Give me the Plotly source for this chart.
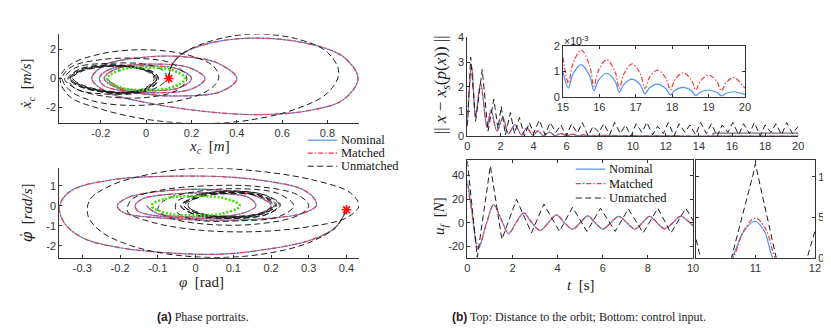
import plotly.graph_objects as go

# ---------------- data ----------------
# (a) top: cart phase portrait (x_c [m], xdot_c [m/s])
xc_nom = [0.10, 0.11, 0.15, 0.26, 0.46,
          0.70, 0.87, 0.935, 0.87, 0.72,
          0.50, 0.25, 0.00, -0.17, -0.240,
          -0.18, -0.02, 0.15, 0.31, 0.40,
          0.33, 0.14, -0.06, -0.19, -0.205,
          -0.15, 0.03, 0.19, 0.26, 0.20,
          0.04, -0.11, -0.185, -0.13, 0.01,
          0.14, 0.20, 0.15, 0.00, -0.12,
          -0.175]
xcdot_nom = [0.0, 0.8, 1.6, 2.35, 2.78,
             2.45, 1.5, 0.0, -1.45, -2.2,
             -2.48, -2.25, -1.65, -0.95, 0.0,
             0.95, 1.45, 1.52, 1.1, 0.0,
             -0.9, -1.2, -0.95, -0.45, 0.1,
             0.7, 1.0, 0.75, 0.0, -0.72,
             -0.98, -0.75, 0.0, 0.68, 0.88,
             0.65, 0.0, -0.62, -0.84, -0.6,
             0.0]
xc_unm = [0.10, 0.11, 0.15, 0.26, 0.45,
          0.66, 0.80, 0.85, 0.80, 0.66,
          0.46, 0.25, 0.02, -0.20, -0.34,
          -0.38, -0.34, -0.20, 0.00, 0.19,
          0.30, 0.32, 0.27, 0.12, -0.06,
          -0.22, -0.33, -0.37, -0.33, -0.20,
          -0.02, 0.12, 0.18, 0.13, 0.00,
          -0.17, -0.31, -0.36, -0.31, -0.16,
          0.00, 0.08, 0.09, 0.05, -0.06,
          -0.20, -0.31, -0.345]
xcdot_unm = [0.0, 0.8, 1.6, 2.45, 3.05,
             2.75, 1.8, 0.4, -1.0, -2.1,
             -2.85, -3.1, -2.85, -2.1, -1.2,
             0.0, 0.9, 1.7, 1.98, 1.6,
             0.8, 0.0, -0.85, -1.6, -1.85,
             -1.6, -0.9, 0.0, 0.8, 1.3,
             1.38, 1.0, 0.0, -0.85, -1.3,
             -1.25, -0.7, 0.0, 0.75, 1.05,
             0.97, 0.5, 0.0, -0.6, -1.0,
             -1.05, -0.7, 0.0]
xc_unm_cycle = [-0.30, -0.19, -0.05, 0.04, 0.055, 0.01, -0.07, -0.20, -0.30, -0.340,
                -0.29, -0.18, -0.05, 0.03, 0.045, 0.00, -0.08, -0.20, -0.295, -0.330,
                -0.28, -0.17, -0.04, 0.025, 0.035, -0.005, -0.085, -0.195, -0.285, -0.322,
                -0.29, -0.18, -0.045, 0.035, 0.045, 0.005, -0.075, -0.20, -0.295, -0.334,
                -0.30, -0.19, -0.05, 0.04, 0.052, 0.008, -0.07, -0.20, -0.30, -0.338,
                -0.285, -0.175, -0.045, 0.03, 0.04, 0.0, -0.08, -0.195, -0.29, -0.326]
xcdot_unm_cycle = [0.60, 0.93, 0.82, 0.36, -0.10, -0.76, -1.06, -0.92, -0.50, 0.0,
                   0.56, 0.87, 0.76, 0.32, -0.10, -0.70, -0.99, -0.86, -0.46, 0.0,
                   0.52, 0.82, 0.71, 0.28, -0.08, -0.64, -0.93, -0.80, -0.42, 0.0,
                   0.56, 0.86, 0.75, 0.31, -0.09, -0.69, -0.98, -0.85, -0.46, 0.0,
                   0.59, 0.91, 0.80, 0.35, -0.10, -0.74, -1.04, -0.90, -0.49, 0.0,
                   0.54, 0.84, 0.73, 0.30, -0.09, -0.67, -0.96, -0.83, -0.44, 0.0]
orbit_xc = [-0.17, -0.12, 0.0, 0.12, 0.171, 0.12, 0.0, -0.12, -0.17]
orbit_xcdot = [0.0, 0.55, 0.76, 0.55, 0.0, -0.57, -0.79, -0.57, 0.0]
start_xc = [0.10]
start_xcdot = [0.0]

# (a) bottom: pendulum phase portrait (phi [rad], phidot [rad/s])
phi_nom = [0.40, 0.37, 0.30, 0.18, 0.07,
           -0.05, -0.20, -0.30, -0.35, -0.36,
           -0.33, -0.22, -0.05, 0.10, 0.20,
           0.28, 0.315, 0.32, 0.28, 0.18,
           0.05, -0.10, -0.19, -0.207, -0.18,
           -0.08, 0.05, 0.15, 0.20, 0.16,
           0.05, -0.08, -0.15, -0.16, -0.14,
           -0.05, 0.05, 0.14, 0.16, 0.12,
           0.00, -0.10, -0.13]
phidot_nom = [-0.2, -1.1, -1.75, -2.2, -2.42,
              -2.38, -2.1, -1.6, -0.8, 0.0,
              0.75, 1.3, 1.48, 1.42, 1.2,
              0.85, 0.35, 0.0, -0.4, -0.65,
              -0.72, -0.6, -0.35, 0.0, 0.4,
              0.75, 0.8, 0.55, 0.0, -0.45,
              -0.62, -0.55, -0.3, 0.0, 0.35,
              0.6, 0.62, 0.42, 0.0, -0.4,
              -0.55, -0.4, 0.0]
phi_unm = [0.40, 0.37, 0.30, 0.20, 0.08,
           -0.06, -0.17, -0.25, -0.285, -0.28,
           -0.22, -0.10, 0.02, 0.18, 0.32,
           0.41, 0.433, 0.40, 0.30, 0.15,
           0.00, -0.12, -0.18, -0.17, -0.10,
           0.03, 0.17, 0.27, 0.30, 0.27,
           0.17, 0.05, -0.06, -0.10, -0.08,
           0.00, 0.12, 0.22, 0.26, 0.22,
           0.12, 0.00, -0.05, -0.05]
phidot_unm = [-0.2, -1.1, -1.85, -2.35, -2.58,
              -2.45, -2.0, -1.3, -0.5, 0.3,
              1.05, 1.65, 1.88, 1.7, 1.25,
              0.65, 0.0, -0.6, -1.05, -1.3,
              -1.2, -0.8, -0.3, 0.3, 0.75,
              1.0, 0.95, 0.55, 0.0, -0.5,
              -0.9, -0.95, -0.65, -0.2, 0.3,
              0.7, 0.85, 0.6, 0.0, -0.55,
              -0.75, -0.7, -0.3, 0.2]
phi_unm_cycle = [0.00, 0.09, 0.18, 0.225, 0.19, 0.10, 0.00, -0.04,
                 0.005, 0.09, 0.175, 0.215, 0.18, 0.10, 0.01, -0.03,
                 0.01, 0.095, 0.17, 0.205, 0.175, 0.095, 0.015, -0.02,
                 0.005, 0.09, 0.175, 0.212, 0.18, 0.10, 0.01, -0.03,
                 0.00, 0.09, 0.18, 0.222, 0.188, 0.10, 0.002, -0.038,
                 0.008, 0.092, 0.172, 0.208, 0.178, 0.097, 0.012, -0.025]
phidot_unm_cycle = [0.52, 0.74, 0.56, 0.05, -0.43, -0.64, -0.46, 0.0,
                    0.47, 0.68, 0.51, 0.03, -0.39, -0.58, -0.42, 0.0,
                    0.42, 0.62, 0.46, 0.02, -0.35, -0.53, -0.38, 0.0,
                    0.46, 0.67, 0.50, 0.03, -0.39, -0.57, -0.41, 0.0,
                    0.51, 0.72, 0.55, 0.04, -0.42, -0.62, -0.45, 0.0,
                    0.44, 0.64, 0.48, 0.02, -0.37, -0.55, -0.40, 0.0]
orbit_phi = [-0.116, -0.082, 0.0, 0.082, 0.117, 0.082, 0.0, -0.082, -0.116]
orbit_phidot = [0.0, 0.34, 0.48, 0.34, 0.0, -0.34, -0.48, -0.34, 0.0]
start_phi = [0.40]
start_phidot = [-0.2]

# (b) top: distance to the orbit
t_dist = [0.0, 0.26, 0.5, 0.8, 1.2, 1.43, 1.79, 2.15, 2.48, 2.88,
          3.28, 3.58, 3.97, 4.27, 4.6, 4.97, 5.3, 5.65, 6.0, 6.35,
          6.7, 7.05, 7.4, 8.0, 9.0, 10.0, 12.0, 14.0, 16.0, 18.0, 20.0]
d_nom = [0.45, 2.87, 0.78, 2.15, 0.33, 1.07, 0.2, 0.76, 0.1, 0.46,
         0.04, 0.33, 0.03, 0.2, 0.01, 0.16, 0.01, 0.1, 0.01, 0.07,
         0.01, 0.05, 0.01, 0.02, 0.01, 0.01, 0.005, 0.003, 0.001, 0.0005, 0.0002]
d_mat = [0.45, 2.8, 0.82, 2.1, 0.36, 1.02, 0.22, 0.73, 0.12, 0.44,
         0.05, 0.32, 0.04, 0.21, 0.02, 0.16, 0.02, 0.11, 0.01, 0.08,
         0.01, 0.05, 0.01, 0.03, 0.02, 0.01, 0.005, 0.003, 0.002, 0.001, 0.0005]
t_dist_unm = [0.0, 0.2, 0.5, 0.9, 1.25, 1.6, 1.85, 2.05,
              2.3, 2.6, 2.85, 3.15, 3.45, 3.75, 4.0, 4.35,
              4.7, 5.0, 5.35, 5.65, 6.0, 6.3, 6.65, 6.95,
              7.3, 7.6, 7.95, 8.25, 8.6, 8.9, 9.25, 9.55,
              9.9, 10.2, 10.55, 10.85, 11.2, 11.5, 11.85, 12.15,
              12.5, 12.8, 13.15, 13.45, 13.8, 14.1, 14.45, 14.75,
              15.1, 15.4, 15.75, 16.05, 16.4, 16.7, 17.05, 17.35,
              17.7, 18.0, 18.35, 18.65, 19.0, 19.3, 19.65, 20.0]
d_unm = [0.4, 3.2, 0.6, 2.7, 0.2, 1.5, 0.3, 1.2,
         0.05, 0.95, 0.1, 0.75, 0.0, 0.55, 0.1, 0.65,
         0.05, 0.55, 0.15, 0.45, 0.0, 0.5, 0.12, 0.55,
         0.0, 0.4, 0.15, 0.5, 0.05, 0.55, 0.1, 0.45,
         0.0, 0.5, 0.15, 0.55, 0.05, 0.4, 0.1, 0.55,
         0.0, 0.5, 0.15, 0.45, 0.05, 0.55, 0.1, 0.5,
         0.0, 0.45, 0.15, 0.55, 0.05, 0.5, 0.1, 0.55,
         0.0, 0.45, 0.15, 0.5, 0.05, 0.55, 0.1, 0.4]

# inset (t = 15..20), values in units of 1e-3
t_ins = [15.0, 15.15, 15.27, 15.5, 15.73, 15.85, 15.97, 16.2, 16.43, 16.55,
         16.67, 16.9, 17.13, 17.25, 17.37, 17.6, 17.83, 17.95, 18.07, 18.3,
         18.53, 18.65, 18.77, 19.0, 19.23, 19.35, 19.47, 19.7, 19.93, 20.0]
ins_nom = [0.99, 0.35, 0.88, 1.27, 0.84, 0.25, 0.64, 0.93, 0.62, 0.18,
           0.48, 0.70, 0.46, 0.12, 0.34, 0.50, 0.32, 0.08, 0.25, 0.37,
           0.24, 0.05, 0.18, 0.27, 0.17, 0.04, 0.13, 0.20, 0.12, 0.09]
ins_mat = [1.56, 0.54, 1.29, 1.84, 1.24, 0.42, 1.02, 1.46, 0.99, 0.33,
           0.89, 1.30, 0.89, 0.33, 0.75, 1.05, 0.72, 0.27, 0.66, 0.95,
           0.66, 0.27, 0.61, 0.86, 0.60, 0.23, 0.54, 0.76, 0.45, 0.35]
ins_scale = 1e-3

# (b) bottom: control input u_f [N]
t_u_nom = [0.0, 0.2, 0.47, 0.85, 1.16, 1.5, 1.82, 2.15,
           2.5, 2.85, 3.22, 3.58, 3.94, 4.3, 4.66, 5.0,
           5.33, 5.66, 6.0, 6.35, 6.7, 7.06, 7.42, 7.75,
           8.08, 8.4, 8.74, 9.1, 9.46, 9.85, 10.2, 10.61,
           10.8, 10.99, 11.15, 11.29, 11.65, 12.0]
u_nom = [36, 10, -22.5, 0, 15.3, 3, -9, 0,
         8.1, 0, -6.6, 0, 6.6, 0, -5.4, 0,
         5.7, 0, -5.2, 0, 5.3, 0, -5.3, 0,
         5.4, 0, -5.1, 0, 5.4, 0, -5.0, 0,
         3.2, 4.5, 3.3, 0, -4.8, 0]
t_u_mat = [0.0, 0.2, 0.5, 0.86, 1.17, 1.5, 1.83, 2.16,
           2.51, 2.86, 3.23, 3.59, 3.95, 4.31, 4.67, 5.01,
           5.34, 5.67, 6.01, 6.36, 6.71, 7.07, 7.43, 7.76,
           8.09, 8.41, 8.75, 9.11, 9.47, 9.87, 10.22, 10.63,
           10.82, 11.0, 11.17, 11.33, 11.68, 12.0]
u_mat = [33, 9, -21, 0, 15, 3, -9.3, 0,
         8.2, 0, -6.5, 0, 6.5, 0, -5.5, 0,
         5.6, 0, -5.3, 0, 5.3, 0, -5.3, 0,
         5.5, 0, -5.2, 0, 5.5, 0, -5.0, 0,
         3.5, 4.9, 3.6, 0, -4.8, 0]
t_u_unm = [0.0, 0.44, 1.02, 1.53, 2.18, 2.84, 3.39, 4.08, 4.66, 5.3,
           5.9, 6.55, 7.13, 7.79, 8.44, 9.02, 9.68, 10.08, 10.3, 10.6,
           10.96, 11.0, 11.35, 11.6, 11.87, 12.0]
u_unm = [52, -29, 48, -14, 19.7, -8.6, 15.7, -7.3, 13, -7.3,
         12.2, -7.3, 11.6, -8.6, 12.2, -8.6, 12.2, 0, -7.5, 0,
         10.2, 11.6, 0, -7.5, 0, 3.3]

zoom_window = [15, 20]
names = ["Nominal", "Matched", "Unmatched"]

# ---------------- styling ----------------
W, H = 831, 328
BLUE = "#4d94f2"
RED = "#f23a3a"
STAR_RED = "#ff1010"
BLACK = "#1e1e1e"
GREEN = "#3fe000"
AX = "#333333"
SANS = "Liberation Sans, Arial, sans-serif"
SERIF = "Liberation Serif, Times New Roman, serif"

STYLE = {
    "Nominal": dict(color=BLUE, width=1.2, dash="solid"),
    "Matched": dict(color=RED, width=1.2, dash="5px,2px,1.5px,2px"),
    "Unmatched": dict(color=BLACK, width=1.0, dash="6px,3.5px"),
}


def fx(p):
    return p / W


def fy(p):
    return 1 - p / H


fig = go.Figure()


def curve(x, y, name, xa, ya, shape="spline"):
    st = STYLE[name]
    line = dict(color=st["color"], width=st["width"], dash=st["dash"], shape=shape)
    if shape == "spline":
        line["smoothing"] = 1.0
    fig.add_trace(go.Scatter(x=x, y=y, mode="lines", name=name, line=line,
                             xaxis=xa, yaxis=ya, showlegend=False, hoverinfo="skip"))


def orbit(x, y, xa, ya):
    fig.add_trace(go.Scatter(x=x, y=y, mode="lines", xaxis=xa, yaxis=ya,
                             line=dict(color=GREEN, width=2.6, dash="2px,1.8px",
                                       shape="spline", smoothing=1.2),
                             showlegend=False, hoverinfo="skip"))


def star(x, y, xa, ya):
    fig.add_trace(go.Scatter(x=x, y=y, mode="markers", xaxis=xa, yaxis=ya,
                             marker=dict(symbol="asterisk-open", size=8, color=STAR_RED,
                                         line=dict(color=STAR_RED, width=1.6)),
                             showlegend=False, hoverinfo="skip"))


# (a) top
curve(xc_nom, xcdot_nom, "Nominal", "x", "y")
curve(xc_nom, xcdot_nom, "Matched", "x", "y")
curve(xc_unm + xc_unm_cycle, xcdot_unm + xcdot_unm_cycle, "Unmatched", "x", "y")
orbit(orbit_xc, orbit_xcdot, "x", "y")
star(start_xc, start_xcdot, "x", "y")

# (a) bottom
curve(phi_nom, phidot_nom, "Nominal", "x2", "y2")
curve(phi_nom, phidot_nom, "Matched", "x2", "y2")
curve(phi_unm + phi_unm_cycle, phidot_unm + phidot_unm_cycle, "Unmatched", "x2", "y2")
orbit(orbit_phi, orbit_phidot, "x2", "y2")
star(start_phi, start_phidot, "x2", "y2")

# (b) top + inset
curve(t_dist, d_nom, "Nominal", "x3", "y3")
curve(t_dist, d_mat, "Matched", "x3", "y3")
curve(t_dist_unm, d_unm, "Unmatched", "x3", "y3", shape="linear")
curve(t_ins, [v * ins_scale for v in ins_nom], "Nominal", "x4", "y4")
curve(t_ins, [v * ins_scale for v in ins_mat], "Matched", "x4", "y4")

# (b) bottom left and zoomed right
curve(t_u_nom, u_nom, "Nominal", "x5", "y5")
curve(t_u_mat, u_mat, "Matched", "x5", "y5")
curve(t_u_unm, u_unm, "Unmatched", "x5", "y5", shape="linear")
curve(t_u_nom, u_nom, "Nominal", "x6", "y6")
curve(t_u_mat, u_mat, "Matched", "x6", "y6")
curve(t_u_unm, u_unm, "Unmatched", "x6", "y6", shape="linear")


def axis(domain, rng, ticks, anchor, mirror=False, side=None, ticktext=None):
    d = dict(domain=domain, range=rng, tickvals=ticks,
             ticktext=ticktext or [f"{t:g}" for t in ticks],
             anchor=anchor, showline=True, linecolor=AX, linewidth=1,
             mirror="ticks" if mirror else False, ticks="inside", ticklen=3,
             tickcolor=AX, tickwidth=1, showgrid=False, zeroline=False,
             tickfont=dict(family=SANS, size=11, color=AX), fixedrange=True)
    if side:
        d["side"] = side
    return d


a_x = [fx(46), fx(350)]
fig.update_layout(
    xaxis=axis(a_x, [-0.383, 0.939], [-0.2, 0, 0.2, 0.4, 0.6, 0.8], "y"),
    yaxis=axis([fy(113), fy(21)], [-3.05, 3.05], [-2, 0, 2], "x"),
    xaxis2=axis(a_x, [-0.361, 0.433], [-0.3, -0.2, -0.1, 0, 0.1, 0.2, 0.3, 0.4], "y2"),
    yaxis2=axis([fy(253), fy(160)], [-2.6, 1.88], [-2, -1, 0, 1], "x2"),
    xaxis3=axis([fx(460), fx(795.7)], [0, 20], list(range(0, 21, 2)), "y3"),
    yaxis3=axis([fy(126.7), fy(24.3)], [0, 4], [0, 1, 2, 3, 4], "x3"),
    xaxis4=axis([fx(557), fx(741.7)], zoom_window, [15, 16, 17, 18, 19, 20], "y4", mirror=True),
    yaxis4=axis([fy(86), fy(33.3)], [0, 2 * ins_scale], [0, ins_scale, 2 * ins_scale], "x4",
                mirror=True, ticktext=["0", "1", "2"]),
    xaxis5=axis([fx(460), fx(689)], [0, 10], [0, 2, 4, 6, 8, 10], "y5", mirror=True),
    yaxis5=axis([fy(253), fy(152)], [-29.5, 52.5], [-20, 0, 20, 40], "x5", mirror=True),
    xaxis6=axis([fx(691.7), fx(812.7)], [10, 12], [10, 11, 12], "y6", mirror=True,
                ticktext=["", "11", "12"]),
    yaxis6=axis([fy(253), fy(152)], [0, 12], [0, 5, 10], "x6", mirror=True, side="right"),
)

# legends (MATLAB-style compact rows)
legend_rows = {
    "a": dict(x0=298, rows=[131, 144.5, 158]),
    "b": dict(x0=570, rows=[161, 176, 191]),
}
for spec in legend_rows.values():
    for name, yrow in zip(names, spec["rows"]):
        st = STYLE[name]
        fig.add_shape(type="line", xref="paper", yref="paper",
                      x0=fx(spec["x0"]), x1=fx(spec["x0"] + 30), y0=fy(yrow), y1=fy(yrow),
                      line=dict(color=st["color"], width=st["width"], dash=st["dash"]))
        fig.add_annotation(text=name, x=fx(spec["x0"] + 32), y=fy(yrow), xref="paper",
                           yref="paper", showarrow=False, xanchor="left", yanchor="middle",
                           font=dict(family=SERIF, size=12.5, color="#111"))

# zoom window and arrow to the inset
fig.add_shape(type="rect", xref="x3", yref="y3", x0=zoom_window[0] - 0.15, x1=zoom_window[1],
              y0=-0.12, y1=0.12, line=dict(color=BLACK, width=0.8), layer="above")
fig.add_annotation(x=19.35, y=-0.00004, xref="x4", yref="y4", ax=32, ay=38,
                   axref="pixel", ayref="pixel", showarrow=True, arrowhead=2,
                   arrowsize=1.3, arrowwidth=1, arrowcolor=BLACK, text="")


def label(text, x, y, size=14, angle=0, family=SERIF, anchor="center"):
    fig.add_annotation(text=text, x=fx(x), y=fy(y), xref="paper", yref="paper",
                       showarrow=False, textangle=angle, xanchor=anchor, yanchor="middle",
                       font=dict(family=family, size=size, color="#222"))


label("<i>x<sub>c</sub></i>  [<i>m</i>]", 198, 138, size=15)
label("<i>ẋ<sub>c</sub></i>  [<i>m/s</i>]", 14, 72, size=15, angle=-90)
label("<i>φ</i>  [rad]", 190, 278, size=15)
label('<span style="font-family:DejaVu Serif"><i>φ̇</i></span>  [<i>rad/s</i>]', 14, 206,
      size=15, angle=-90)
label("|| <i>x</i> − <i>x<sub>s</sub></i>(<i>p</i>(<i>x</i>)) ||", 435, 73, size=17, angle=-90)
label("<i>u<sub>f</sub></i>  [<i>N</i>]", 433, 210, size=15, angle=-90)
label("<i>t</i>  [s]", 575, 281, size=15)
label("×10<sup>-3</sup>", 556, 28, size=10.5, family=SANS, anchor="left")
label('<span style="font-family:Liberation Sans"><b>(a)</b></span> Phase portraits.',
      192, 315, size=12)
label('<span style="font-family:Liberation Sans"><b>(b)</b></span> Top: Distance to the orbit; '
      'Bottom: control input.', 442, 315, size=12, anchor="left")

fig.update_layout(width=W, height=H, autosize=False,
                  margin=dict(l=0, r=0, t=0, b=0),
                  paper_bgcolor="white", plot_bgcolor="rgba(0,0,0,0)",
                  showlegend=False)

fig.write_html("out.html")
